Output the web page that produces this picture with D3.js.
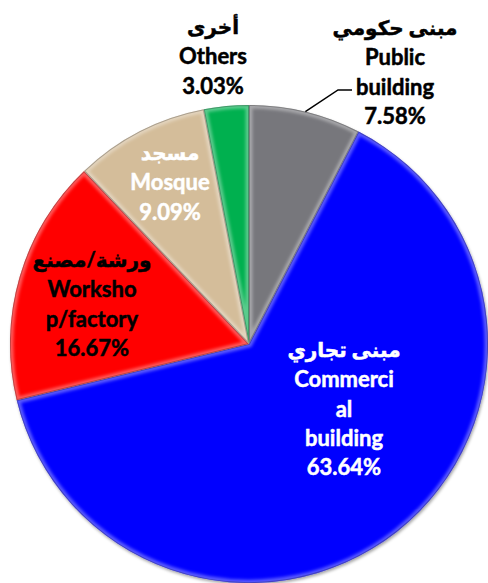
<!DOCTYPE html>
<html>
<head>
<meta charset="utf-8">
<script src="https://cdn.jsdelivr.net/npm/d3@7"></script>
<style>
  html, body { margin: 0; padding: 0; background: #fff; }
  #chart { width: 488px; height: 583px; }
  text { font-family: Lato, "DejaVu Sans", sans-serif; font-weight: 700; }
</style>
</head>
<body>
<div id="chart"></div>
<script>
// data, clockwise from 12 o'clock
const namesAr = ["مبنى حكومي", "مبنى تجاري", "ورشة/مصنع", "مسجد", "أخرى"];
const namesEn = [["Public", "building"], ["Commerci", "al", "building"], ["Worksho", "p/factory"], ["Mosque"], ["Others"]];
const shares = [7.58, 63.64, 16.67, 9.09, 3.03];
const colors = ["#77777b", "#0000ff", "#ff0000", "#d4bd9a", "#00b050"];
const textColors = ["#000", "#fff", "#000", "#fff", "#000"];

// where each label block sits (center x, first line y)
const labelPos = [[395, 28], [344, 350], [92, 260], [170, 153], [213, 27]];
const lineGap = 29.3;

const width = 488, height = 583;
const cx = 249, cy = 344, r = 239;

const svg = d3.select('#chart').append('svg')
  .attr('width', width)
  .attr('height', height);

const defs = svg.append('defs');
const shadow = defs.append('filter').attr('id', 'shadow')
  .attr('x', '-10%').attr('y', '-10%').attr('width', '120%').attr('height', '120%');
shadow.append('feDropShadow')
  .attr('dx', 1).attr('dy', 2).attr('stdDeviation', 1.5)
  .attr('flood-color', '#000').attr('flood-opacity', 0.35);

const blur = defs.append('filter').attr('id', 'soft');
blur.append('feGaussianBlur').attr('stdDeviation', 1.6);

const pie = d3.pie().sort(null).value(d => d)(shares);
const arc = d3.arc().innerRadius(0).outerRadius(r);
const rim = d3.arc().innerRadius(r).outerRadius(r);

const g = svg.append('g').attr('transform', `translate(${cx},${cy})`);

// clip paths for bevel bands
pie.forEach((d, i) => {
  defs.append('clipPath').attr('id', 'clip' + i)
    .append('path').attr('d', arc(d));
});

const slices = g.append('g').attr('filter', 'url(#shadow)');
slices.selectAll('path.slice')
  .data(pie)
  .join('path')
  .attr('class', 'slice')
  .attr('fill', (d, i) => colors[i])
  .attr('d', arc);

// light bevel along every edge of a slice
g.selectAll('g.bevel')
  .data(pie)
  .join('g')
  .attr('class', 'bevel')
  .attr('clip-path', (d, i) => `url(#clip${i})`)
  .each(function(d) {
    const b = d3.select(this);
    b.append('path')
      .attr('d', arc(d))
      .attr('fill', 'none')
      .attr('stroke', '#fff')
      .attr('stroke-opacity', 0.35)
      .attr('stroke-width', 7)
      .attr('filter', 'url(#soft)');
    b.append('path')
      .attr('d', arc(d))
      .attr('fill', 'none')
      .attr('stroke', '#000')
      .attr('stroke-opacity', 0.25)
      .attr('stroke-width', 2);
  });

// leader line for the public building label
const start = rim.centroid(pie[0]);
g.append('path')
  .attr('fill', 'none')
  .attr('stroke', '#000')
  .attr('stroke-width', 1.5)
  .attr('d', d3.line()([start, [338 - cx, 90 - cy], [352 - cx, 90 - cy]]));

// labels
const fmt = d => d3.format('.2f')(d) + '%';
pie.forEach((d, i) => {
  const lines = [namesAr[i], ...namesEn[i], fmt(shares[i])];
  const [lx, ly] = labelPos[i];
  const t = svg.append('text')
    .attr('text-anchor', 'middle')
    .attr('fill', textColors[i])
    .attr('stroke', textColors[i])
    .attr('stroke-width', 0.5)
    .attr('font-size', 22);
  lines.forEach((s, k) => {
    t.append('tspan')
      .attr('x', lx)
      .attr('y', ly + k * lineGap)
      .attr('dy', '0.36em')
      .attr('font-size', k === 0 ? 20 : 22)
      .text(s);
  });
});
</script>
</body>
</html>
